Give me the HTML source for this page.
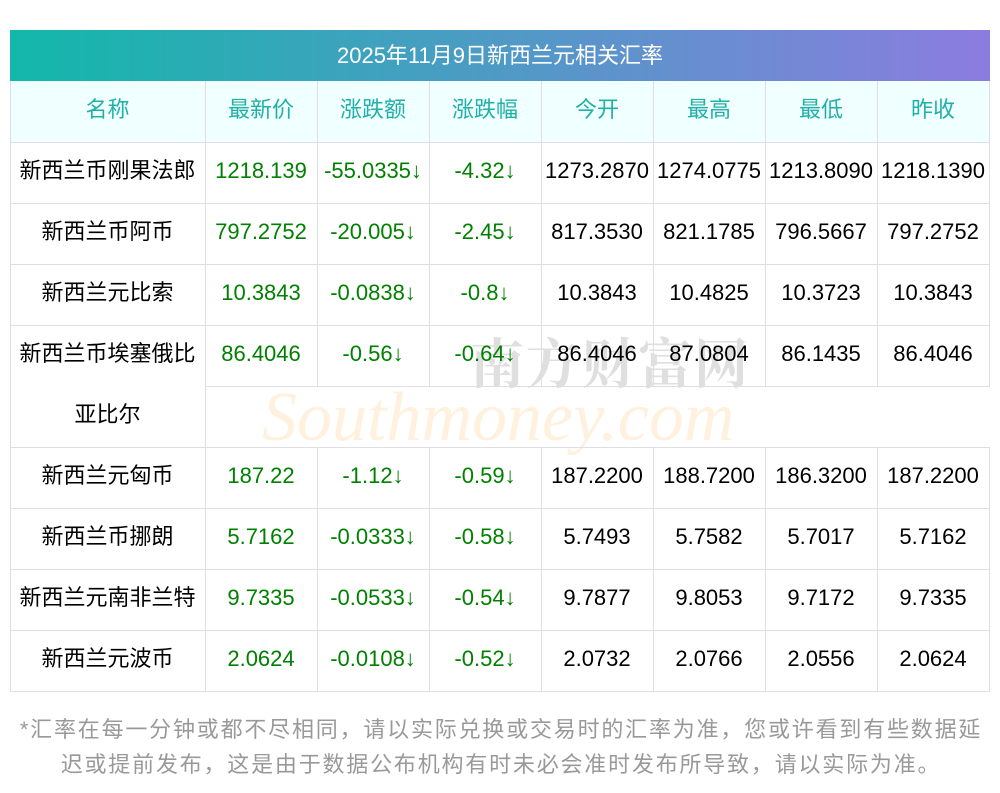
<!DOCTYPE html>
<html><head><meta charset="utf-8"><style>
body{margin:0;width:1000px;height:793px;background:#fff;position:relative;overflow:hidden;font-family:"Liberation Sans","Noto Sans CJK SC",sans-serif;}
.t{position:absolute;left:10px;top:30px;width:980px;height:51px;background:linear-gradient(90deg,#12b8aa,#8c7ce0);color:#fff;font-size:22px;text-align:center;line-height:51px;}
.hd{position:absolute;left:10px;top:81px;width:980px;height:61px;background:#f0ffff;}
.c{position:absolute;text-align:center;font-size:22px;white-space:nowrap;}
.v{position:absolute;width:1px;background:#dcdfe8;}
.h{position:absolute;height:1px;background:#dcdfe8;}
.g{color:#008000}.k{color:#000}.hc{color:#20b0a8}
.wm1{position:absolute;left:470px;top:322px;font-size:54px;color:rgba(150,150,150,0.3);letter-spacing:2px;font-family:"Noto Serif CJK SC",serif;font-weight:bold}
.wm2{position:absolute;left:262px;top:378px;font-size:70px;color:rgba(255,200,120,0.25);font-style:italic;font-family:"Liberation Serif",serif;}
.ft{position:absolute;left:0;width:1002px;text-align:center;font-size:22px;letter-spacing:1.8px;color:#999;}
</style></head><body>
<div class="t">2025年11月9日新西兰元相关汇率</div>
<div class="hd"></div>
<div class="wm2">Southmoney.com</div>
<div class="wm1">南方财富网</div>
<div id="g"></div>
<div class="ft" style="top:712px">*汇率在每一分钟或都不尽相同，请以实际兑换或交易时的汇率为准，您或许看到有些数据延</div>
<div class="ft" style="top:747px">迟或提前发布，这是由于数据公布机构有时未必会准时发布所导致，请以实际为准。</div>
<script>
var xs=[10,205,317,429,541,653,765,877,989];
var H=["名称","最新价","涨跌额","涨跌幅","今开","最高","最低","昨收"];
var R=[
[142,"新西兰币刚果法郎","1218.139","-55.0335↓","-4.32↓","1273.2870","1274.0775","1213.8090","1218.1390"],
[203,"新西兰币阿币","797.2752","-20.005↓","-2.45↓","817.3530","821.1785","796.5667","797.2752"],
[264,"新西兰元比索","10.3843","-0.0838↓","-0.8↓","10.3843","10.4825","10.3723","10.3843"],
[325,"新西兰币埃塞俄比","86.4046","-0.56↓","-0.64↓","86.4046","87.0804","86.1435","86.4046"],
[447,"新西兰元匈币","187.22","-1.12↓","-0.59↓","187.2200","188.7200","186.3200","187.2200"],
[508,"新西兰币挪朗","5.7162","-0.0333↓","-0.58↓","5.7493","5.7582","5.7017","5.7162"],
[569,"新西兰元南非兰特","9.7335","-0.0533↓","-0.54↓","9.7877","9.8053","9.7172","9.7335"],
[630,"新西兰元波币","2.0624","-0.0108↓","-0.52↓","2.0732","2.0766","2.0556","2.0624"]];
var s="";
function cell(x0,x1,y,txt,cls){s+='<div class="c '+cls+'" style="left:'+x0+'px;width:'+(x1-x0)+'px;top:'+(y+16)+'px;line-height:26px">'+txt+'</div>';}
for(var i=0;i<8;i++)cell(xs[i],xs[i+1],81,H[i],"hc");
R.forEach(function(r){for(var i=0;i<8;i++)cell(xs[i],xs[i+1],r[0],r[i+1],i==0?"k":(i<4?"g":"k"));});
cell(10,205,386,"亚比尔","k");
[142,203,264,325,447,508,569,630,691].forEach(function(y){s+='<div class="h" style="left:10px;width:980px;top:'+y+'px"></div>';});
s+='<div class="h" style="left:205px;width:785px;top:386px"></div>';
xs.forEach(function(x,i){
 if(i==0||i==1||i==8){s+='<div class="v" style="left:'+x+'px;top:81px;height:610px"></div>';}
 else{s+='<div class="v" style="left:'+x+'px;top:81px;height:305px"></div><div class="v" style="left:'+x+'px;top:447px;height:244px"></div>';}
});
s+='<div class="v" style="left:989px;top:387px;height:60px;background:#fff"></div>';
document.getElementById("g").innerHTML=s;
</script>
</body></html>
